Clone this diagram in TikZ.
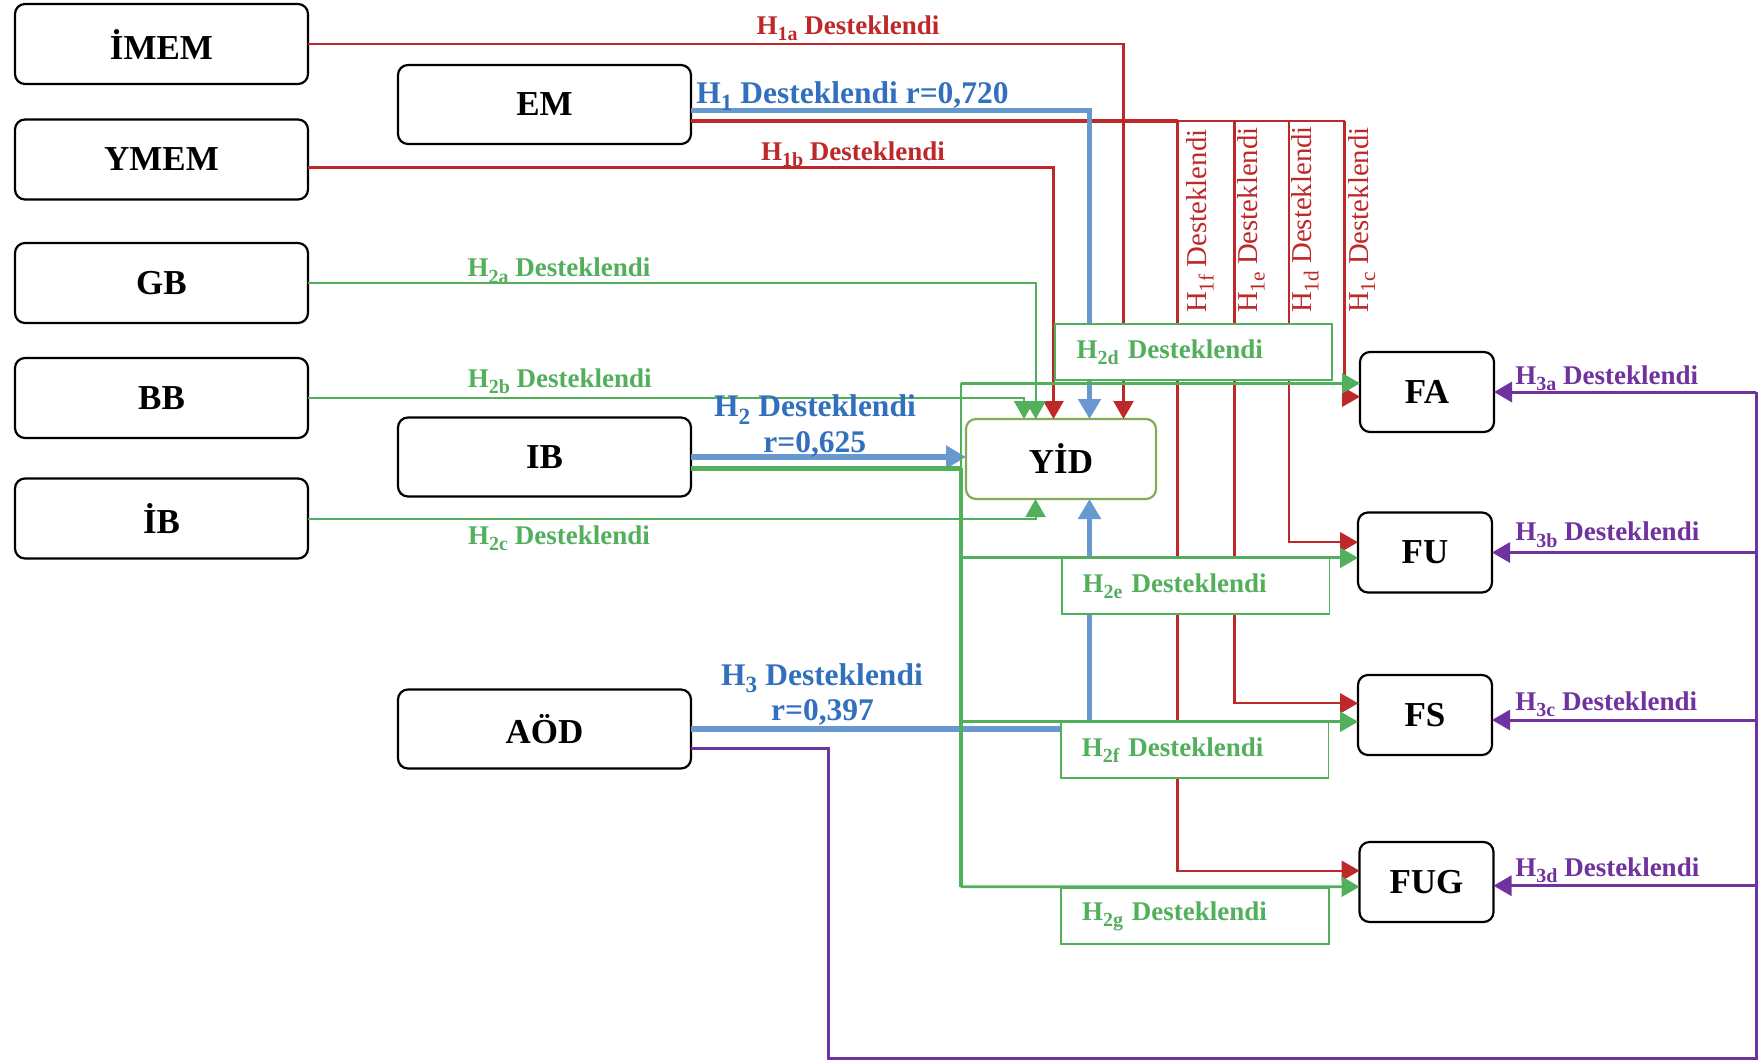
\documentclass[tikz,border=0pt]{standalone}
\usepackage{fontspec}
\setmainfont{Liberation Serif}
\usetikzlibrary{arrows.meta}

\definecolor{rc}{RGB}{190,40,40}
\definecolor{blc}{RGB}{104,152,208}
\definecolor{btc}{RGB}{50,112,190}
\definecolor{gc}{RGB}{82,175,92}
\definecolor{oc}{RGB}{128,172,86}
\definecolor{pc}{RGB}{112,50,158}

% lowered index used in the hypothesis labels
\newcommand\lowidx[1]{\raisebox{-0.24em}{\scalebox{0.74}{#1}}}

\begin{document}
\begin{tikzpicture}[x=0.5pt,y=-0.5pt,
  box/.style={draw=black,line width=1.1pt,rounded corners=5pt,fill=white,
    inner sep=0pt,outer sep=0pt,font=\fontsize{17.5}{20}\selectfont\bfseries},
  lbx/.style={box,minimum width=146.5pt,minimum height=40pt},
  mbx/.style={box,minimum width=146.5pt,minimum height=39.5pt},
  rbx/.style={box,minimum width=67pt,minimum height=40pt},
  lbox/.style={draw=gc,line width=0.9pt,fill=white,inner sep=0pt,outer sep=0pt,
    minimum height=28pt,align=left,text=gc,font=\fontsize{13.5}{15}\selectfont\bfseries},
  rl/.style={draw=rc,line width=1.15pt},
  bl/.style={draw=blc,line width=2.75pt},
  gl/.style={draw=gc,line width=1pt},
  pl/.style={draw=pc,line width=1.5pt},
  tipn/.style={-{Triangle[length=9pt,width=10pt]}},
  tipb/.style={-{Triangle[length=10pt,width=11pt]}},
  rtx/.style={inner sep=0pt,text=rc,font=\fontsize{13.5}{15}\selectfont\bfseries},
  gtx/.style={inner sep=0pt,text=gc,font=\fontsize{13.5}{15}\selectfont\bfseries},
  ptx/.style={inner sep=0pt,text=pc,font=\fontsize{13.5}{15}\selectfont\bfseries},
  btx/.style={inner sep=0pt,text=btc,font=\fontsize{15.75}{18}\selectfont\bfseries},
  vtx/.style={inner sep=0pt,text=rc,rotate=90,anchor=base west,font=\fontsize{14.4}{16}\selectfont},
]
\useasboundingbox (0,0) rectangle (1760,1061);

% ---- boxes ----
\node[lbx] (imem) at (161.5,44) {İMEM};
\node[lbx] (ymem) at (161.5,159.5) {YMEM};
\node[lbx] (gb) at (161.5,283) {GB};
\node[lbx] (bb) at (161.5,398) {BB};
\node[lbx] (ibx) at (161.5,518.5) {İB};

\node[mbx] (em) at (544.5,104.5) {EM};
\node[mbx] (ib) at (544.5,457) {IB};
\node[mbx] (aod) at (544.5,729) {AÖD};

\node[box,draw=oc,minimum width=95pt,minimum height=40pt] (yid) at (1061,459) {YİD};

\node[rbx] (fa) at (1427,392) {FA};
\node[rbx] (fu) at (1425,552.5) {FU};
\node[rbx] (fs) at (1425,715) {FS};
\node[rbx] (fug) at (1426.5,882) {FUG};

% ---- red links (H1) ----
\draw[rl,tipn] (imem.east) -| (1123.5,0 |- yid.north);
\draw[rl,tipn] ([yshift=-4pt]ymem.east) -| (1053.5,0 |- yid.north);
\coordinate (r1) at (1177.5,121);
\coordinate (r2) at (1234.5,121);
\coordinate (r3) at (1289,121);
\coordinate (r4) at (1344.5,121);
\draw[rl,line width=2.35pt] ([yshift=-8.25pt]em.east) -- (r1);
\draw[rl] (r1) -- (r4);
\coordinate (fugR) at ([yshift=5.65pt]fug.west);
\coordinate (fsR) at ([yshift=5.85pt]fs.west);
\coordinate (fuR) at ([yshift=5.15pt]fu.west);
\coordinate (faR) at ([yshift=-2.35pt]fa.west);
\draw[rl,tipn] (r1) |- (fugR);
\draw[rl,tipn] (r2) |- (fsR);
\draw[rl,tipn] (r3) |- (fuR);
\draw[rl,tipn] (r4) |- (faR);

% ---- blue links ----
\draw[bl,tipb] ([yshift=-3.1pt]em.east) -| (1089.5,0 |- yid.north);
\draw[bl,tipb] (ib.east) -- (ib.east -| yid.west);
\draw[bl,tipb] (aod.east) -| (1089.5,0 |- yid.south);

% ---- purple links (H3) ----
\coordinate (pbl) at (828.3,1058);
\coordinate (pbr) at (1756,1058);
\draw[pl] ([yshift=-9.65pt]aod.east) -| (pbl) -- (pbr) -- (pbr |- fa.east);
\coordinate (fsP) at ([yshift=-2.5pt]fs.east);
\coordinate (fugP) at ([yshift=-1.85pt]fug.east);
\draw[pl,tipn] (pbr |- fa.east) -- (fa.east);
\draw[pl,tipn] (pbr |- fu.east) -- (fu.east);
\draw[pl,tipn] (fsP -| pbr) -- (fsP);
\draw[pl,tipn] (fugP -| pbr) -- (fugP);

% ---- green label boxes ----
\node[lbox,minimum width=138.5pt,text width=116.8pt] (h2d) at (1193.5,352) {H\lowidx{2d} Desteklendi};
\node[lbox,minimum width=133.75pt,text width=113pt] (h2e) at (1195.7,586.2) {H\lowidx{2e} Desteklendi};
\node[lbox,minimum width=133.75pt,text width=113pt] (h2f) at (1194.8,750) {H\lowidx{2f} Desteklendi};
\node[lbox,minimum width=133.75pt,text width=113pt] (h2g) at (1195,916.3) {H\lowidx{2g} Desteklendi};

% ---- green links (H2) ----
\draw[gl,tipn] (gb.east) -| (1035.7,0 |- yid.north);
\draw[gl,tipn] (bb.east) -| (1024,0 |- yid.north);
\draw[gl,tipn] (ibx.east) -| (1035.5,0 |- yid.south);
\coordinate (gt) at (960.5,383.3);
\coordinate (gj) at (960.5,468);
\coordinate (gbm) at (960.5,886.7);
\draw[gl,line width=2.5pt] ([yshift=-5.5pt]ib.east) -- (gj);
\draw[gl] (gt) -- (gj);
\draw[gl,line width=2pt] (gj) -- (gbm);
\coordinate (fuG) at ([yshift=-2.65pt]fu.west);
\coordinate (fsG) at ([yshift=-3.35pt]fs.west);
\coordinate (fugG) at ([yshift=-2.35pt]fug.west);
\draw[gl,line width=1.4pt,tipn] (gt) -- (gt -| fa.west);
\draw[gl,line width=1.4pt,tipn] (fuG -| gt) -- (fuG);
\draw[gl,line width=1.4pt,tipn] (fsG -| gt) -- (fsG);
\draw[gl,line width=1.4pt,tipn] (gbm) -- (fugG);

% ---- labels ----
\node[rtx,anchor=base] (l1a) at (848,34.3) {H\lowidx{1a} Desteklendi};
\node[btx,anchor=base] (l1) at (852.5,103.3) {H\lowidx{1} Desteklendi r=0,720};
\node[rtx,anchor=base] (l1b) at (853,160) {H\lowidx{1b} Desteklendi};
\node[gtx,anchor=base] (l2a) at (559,276.7) {H\lowidx{2a} Desteklendi};
\node[gtx,anchor=base] (l2b) at (559.7,387) {H\lowidx{2b} Desteklendi};
\node[gtx,anchor=base] (l2c) at (559,544.5) {H\lowidx{2c} Desteklendi};
\node[btx,anchor=base] (l2) at (815,416.7) {H\lowidx{2} Desteklendi};
\node[btx,anchor=base] (l2r) at (814.7,452.7) {r=0,625};
\node[btx,anchor=base] (l3) at (822,685) {H\lowidx{3} Desteklendi};
\node[btx,anchor=base] (l3r) at (822.5,720) {r=0,397};

\node[ptx,anchor=base west] (l3a) at (1515,384.3) {H\lowidx{3a} Desteklendi};
\node[ptx,anchor=base west] (l3b) at (1515,540.7) {H\lowidx{3b} Desteklendi};
\node[ptx,anchor=base west] (l3c) at (1515,710) {H\lowidx{3c} Desteklendi};
\node[ptx,anchor=base west] (l3d) at (1515,876) {H\lowidx{3d} Desteklendi};

\node[vtx] (l1f) at (1206.7,313.3) {H\lowidx{1f} Desteklendi};
\node[vtx] (l1e) at (1257.7,313.3) {H\lowidx{1e} Desteklendi};
\node[vtx] (l1d) at (1311.7,313.3) {H\lowidx{1d} Desteklendi};
\node[vtx] (l1c) at (1368.3,313.3) {H\lowidx{1c} Desteklendi};
\end{tikzpicture}
\end{document}
